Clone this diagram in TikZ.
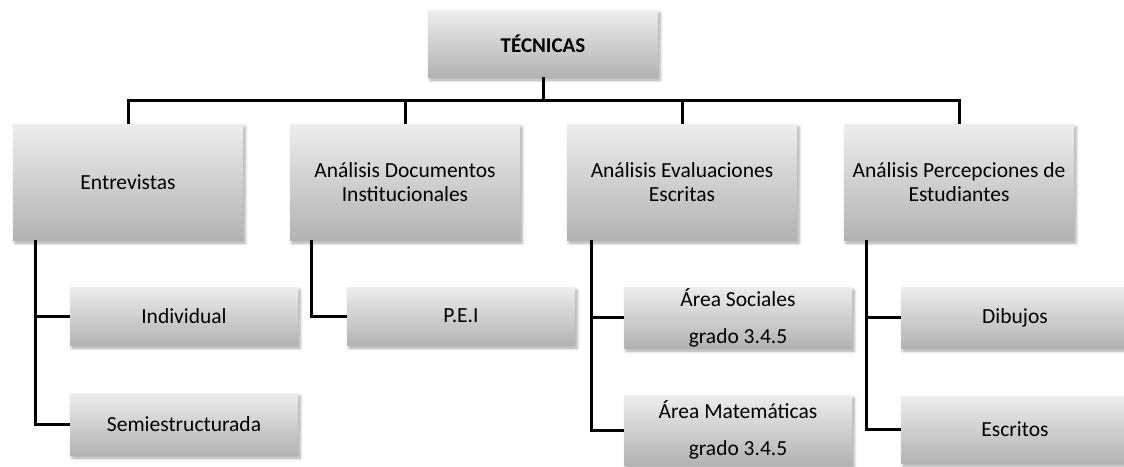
\documentclass[tikz,border=0pt]{standalone}
\usepackage{fontspec}
\setmainfont{Carlito}
\usetikzlibrary{calc,shadows.blur}

\tikzset{
	box/.style={rectangle, inner sep=0pt, align=center, top color=black!7, bottom color=black!30,
		blur shadow={shadow xshift=2pt, shadow yshift=-3pt, shadow blur radius=3pt, shadow opacity=35},
		font=\fontsize{21.5}{24}\selectfont},
	topbox/.style={box, minimum width=230pt, minimum height=67pt, font=\fontsize{21}{24}\selectfont\bfseries},
	mainbox/.style={box, minimum width=230pt, minimum height=116pt},
	subbox/.style={box, minimum width=228pt},
	link/.style={line width=3pt, color=black}
}

\begin{document}
\begin{tikzpicture}[x=1pt, y=-1pt]
		%%%%% START %%%%%
		\useasboundingbox (0, 0) rectangle (1124, 466);
		
		\node[topbox] (tecnicas) at (543, 43.5) {TÉCNICAS};
		
		\node[mainbox] (entrevistas) at (128, 182) {Entrevistas};
		\node[mainbox] (documentos) at (405, 182) {Análisis Documentos\\Institucionales};
		\node[mainbox] (evaluaciones) at (682, 182) {Análisis Evaluaciones\\Escritas};
		\node[mainbox] (percepciones) at (959, 182) {Análisis Percepciones de\\Estudiantes};
		
		\node[subbox, minimum height=58pt] (individual) at (184, 316) {Individual};
		\node[subbox, minimum height=62pt] (semi) at (184, 424) {Semiestructurada};
		
		\node[subbox, minimum height=58pt] (pei) at (461, 316) {P.E.I};
		
		\node[subbox, minimum height=61pt] (sociales) at (738, 317.5) {Área Sociales\\[13pt]grado 3.4.5};
		\node[subbox, minimum height=70pt] (matematicas) at (738, 430) {Área Matemáticas\\[13pt]grado 3.4.5};
		
		\node[subbox, minimum height=61pt] (dibujos) at (1015, 317.5) {Dibujos};
		\node[subbox, minimum height=67pt] (escritos) at (1015, 429.5) {Escritos};
		
		\coordinate (bar) at (543, 100);
		\draw[link] (tecnicas.south) -- (bar);
		\foreach \n in {entrevistas, documentos, evaluaciones, percepciones}
			\draw[link] (\n.north) |- (bar);
		
		\draw[link] ([xshift=23pt]entrevistas.south west) |- (individual.west);
		\draw[link] ([xshift=23pt]entrevistas.south west) |- (semi.west);
		\draw[link] ([xshift=22pt]documentos.south west) |- (pei.west);
		\draw[link] ([xshift=25pt]evaluaciones.south west) |- (sociales.west);
		\draw[link] ([xshift=25pt]evaluaciones.south west) |- (matematicas.west);
		\draw[link] ([xshift=23pt]percepciones.south west) |- (dibujos.west);
		\draw[link] ([xshift=23pt]percepciones.south west) |- (escritos.west);
		
		%%%%% END %%%%%
	\end{tikzpicture}
\end{document}
